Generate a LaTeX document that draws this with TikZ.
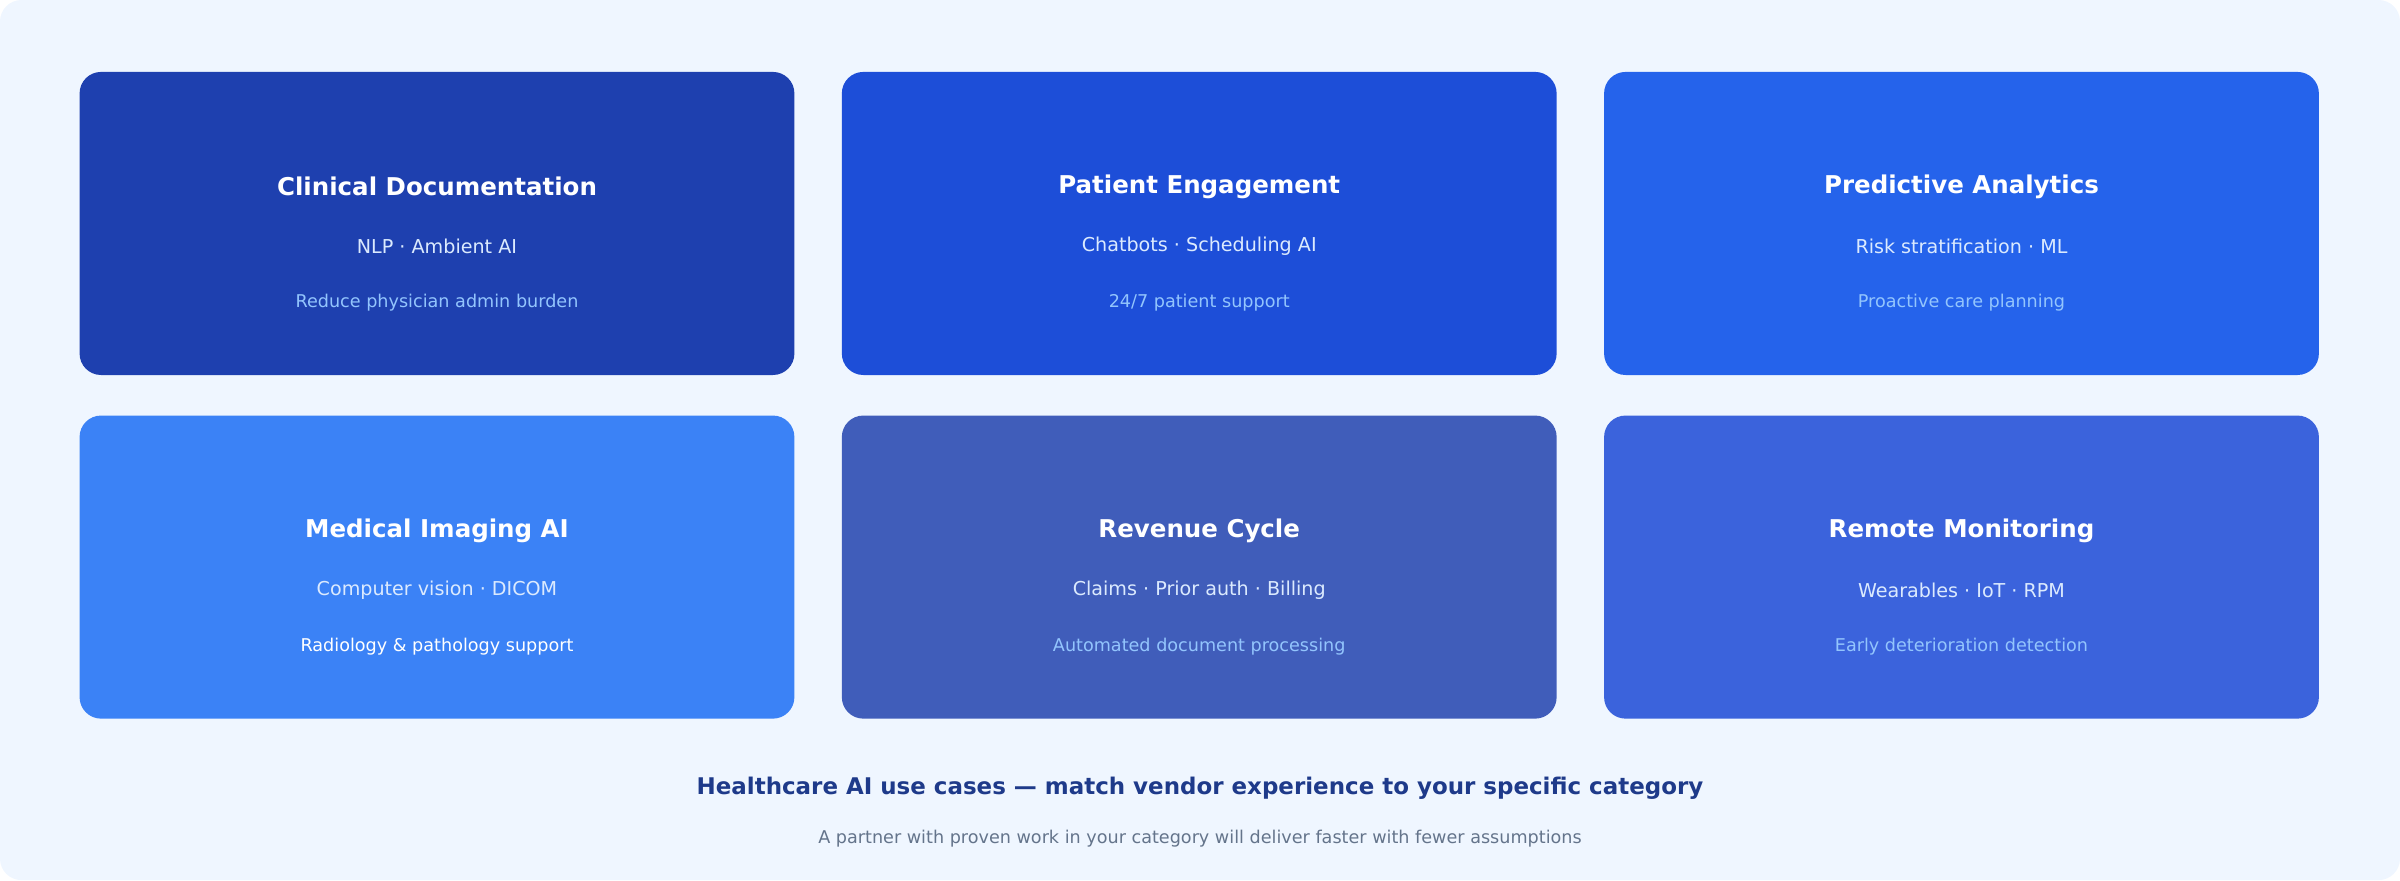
\documentclass[tikz,border=0pt]{standalone}
\usepackage{fontspec}
\setmainfont{DejaVu Sans}
\begin{document}
\definecolor{bg}{HTML}{EFF6FF}
\definecolor{cA}{HTML}{1E40AF}
\definecolor{cB}{HTML}{1D4ED8}
\definecolor{cC}{HTML}{2563EB}
\definecolor{cD}{HTML}{3B82F6}
\definecolor{cE}{HTML}{405DBA}
\definecolor{cF}{HTML}{3B63DC}
\definecolor{ltwo}{HTML}{DBEAFE}
\definecolor{lthree}{HTML}{93C5FD}
\definecolor{ttl}{HTML}{1E3A8A}
\definecolor{sub}{HTML}{64748B}
\begin{tikzpicture}[x=1pt,y=-1pt,
 card/.style={rounded corners=14pt,minimum width=467pt,minimum height=198pt,inner sep=0pt},
 t1/.style={text=white,font=\fontsize{16}{18}\selectfont\bfseries},
 t2/.style={text=ltwo,font=\fontsize{12.5}{14}\selectfont},
 t3/.style={text=lthree,font=\fontsize{11.5}{13}\selectfont}]
\useasboundingbox (0,0) rectangle (1568,575);
\fill[bg,rounded corners=14pt] (0,0) rectangle (1568,575);
\foreach \n/\x/\y/\c/\a/\b/\d/\e in {
 a/285.5/146/cA/Clinical Documentation/NLP · Ambient AI/Reduce physician admin burden/lthree,
 b/783.5/146/cB/Patient Engagement/Chatbots · Scheduling AI/24\slash 7 patient support/lthree,
 c/1281.5/146/cC/Predictive Analytics/Risk stratification · ML/Proactive care planning/lthree,
 d/285.5/370.5/cD/Medical Imaging AI/Computer vision · DICOM/Radiology \& pathology support/white,
 e/783.5/370.5/cE/Revenue Cycle/Claims · Prior auth · Billing/Automated document processing/lthree,
 f/1281.5/370.5/cF/Remote Monitoring/Wearables · IoT · RPM/Early deterioration detection/lthree}{
 \node[card,fill=\c] (\n) at (\x,\y) {};
 \node[t1] (\n1) at (\x,\y-24) {\a};
 \node[t2] (\n2) at (\x,\y+15) {\b};
 \node[t3,text=\e] (\n3) at (\x,\y+52) {\d};
}
\node[text=ttl,font=\fontsize{15}{17}\selectfont\bfseries] (title) at (784,515) {Healthcare AI use cases — match vendor experience to your specific category};
\node[text=sub,font=\fontsize{11.5}{13}\selectfont] (subt) at (784,548) {A partner with proven work in your category will deliver faster with fewer assumptions};
\end{tikzpicture}
\end{document}
